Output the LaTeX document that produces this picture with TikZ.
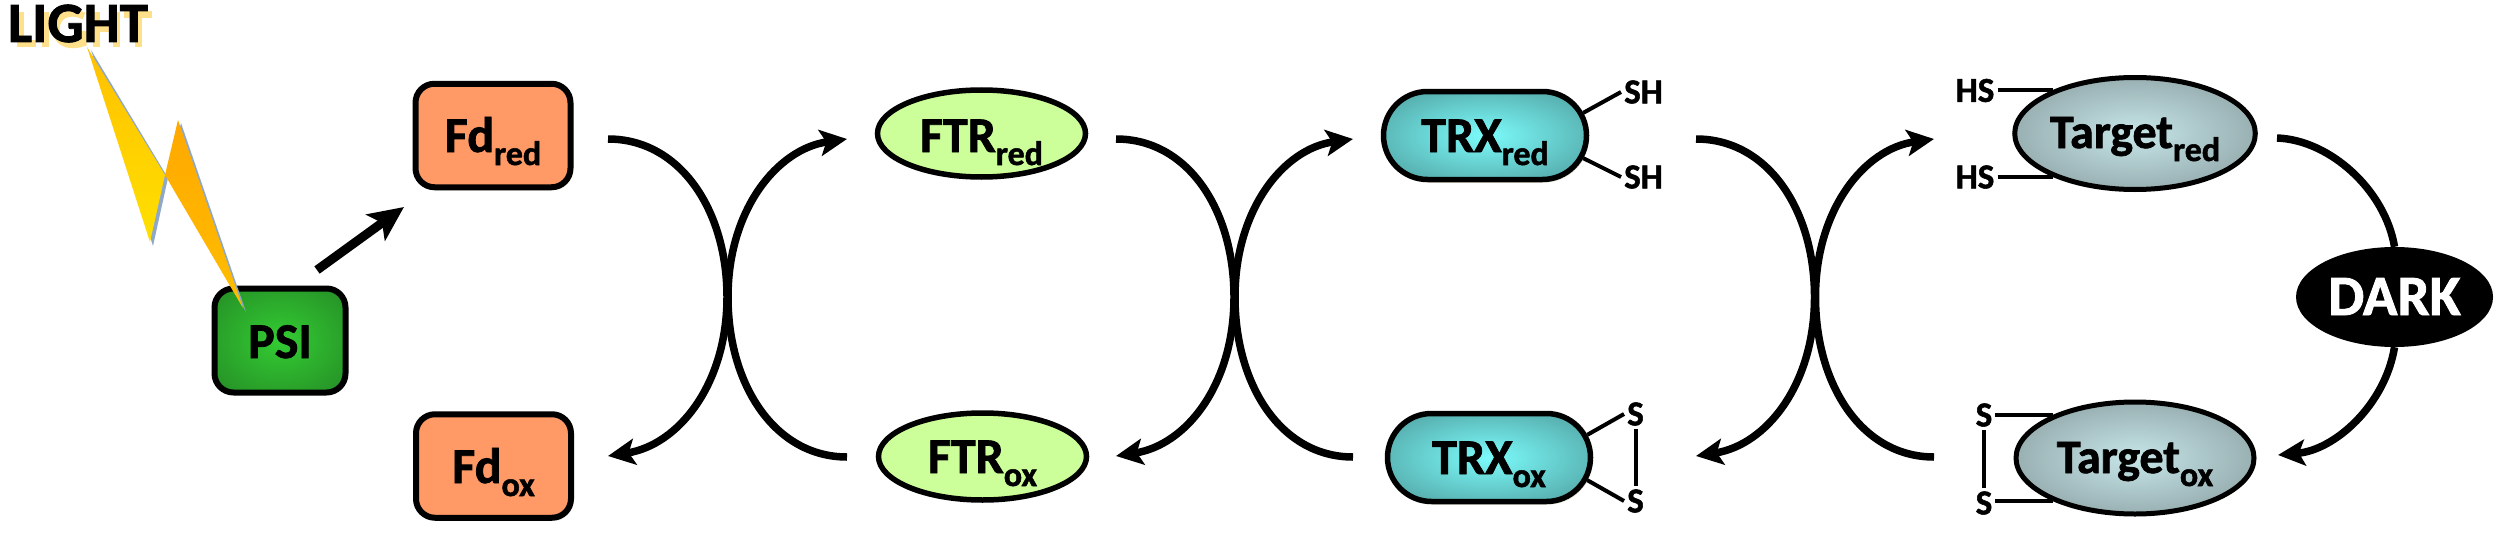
\documentclass[tikz,border=0pt]{standalone}
\usepackage{fontspec}
\setmainfont{Carlito}[BoldFeatures={FakeBold=1.5}]
\usetikzlibrary{arrows.meta,shapes.geometric,shapes.misc,shadows,calc}
\definecolor{fdfill}{HTML}{FF9966}
\definecolor{ftrfill}{HTML}{CCFF99}
\definecolor{trxin}{HTML}{7CFBFB}
\definecolor{trxout}{HTML}{56ACAC}
\definecolor{tgtin}{HTML}{C6E6E8}
\definecolor{tgtout}{HTML}{8DA1A4}
\definecolor{psiin}{HTML}{33CC33}
\definecolor{psiout}{HTML}{258C25}
\definecolor{softshadow}{HTML}{EAEADA}
\definecolor{lightshadow}{HTML}{FFE08A}
\definecolor{boltshadow}{HTML}{8FA8C8}
\definecolor{amberhi}{HTML}{FFA800}
\definecolor{amberlo}{HTML}{FFBE00}
\definecolor{goldhi}{HTML}{FFC000}
\definecolor{goldlo}{HTML}{FFE000}
\pgfdeclareradialshading{trxshade}{\pgfpointorigin}{color(0bp)=(trxin); color(30bp)=(trxout); color(50bp)=(trxout)}
\pgfdeclareradialshading{tgtshade}{\pgfpointorigin}{color(0bp)=(tgtin); color(32bp)=(tgtout); color(50bp)=(tgtout)}
\pgfdeclareradialshading{psishade}{\pgfpointorigin}{color(0bp)=(psiin); color(36bp)=(psiout); color(50bp)=(psiout)}
% main text + subscript, with the baseline #2 below the node centre
\newcommand{\boxlab}[4][50]{\raisebox{-#2pt}[0pt][0pt]{\fontsize{#1}{#1}\selectfont\bfseries #3\raisebox{-13pt}{\fontsize{34}{34}\selectfont #4}}}
\tikzset{
  x=1pt,y=-1pt,
  softdrop/.style={drop shadow={shadow xshift=2pt,shadow yshift=-3pt,fill=softshadow,opacity=1}},
  fdbox/.style={draw=black,line width=6pt,fill=fdfill,rounded corners=19pt,minimum width=155pt,minimum height=103.5pt,inner sep=0pt,softdrop},
  psibox/.style={draw=black,line width=6pt,shading=psishade,rounded corners=19pt,minimum width=131pt,minimum height=104pt,inner sep=0pt},
  ftrnode/.style={ellipse,draw=black,line width=5.5pt,fill=ftrfill,minimum width=208pt,minimum height=87pt,inner sep=0pt},
  trxnode/.style={rounded rectangle,draw=black,line width=5.5pt,shading=trxshade,minimum width=203pt,minimum height=88pt,inner sep=0pt,softdrop},
  tgtnode/.style={ellipse,draw=black,line width=5pt,shading=tgtshade,minimum width=238pt,minimum height=112pt,inner sep=0pt},
  darknode/.style={ellipse,fill=black,text=white,minimum width=197pt,minimum height=100pt,inner sep=0pt},
  thiol/.style={font=\fontsize{35}{35}\selectfont\bfseries,inner sep=3pt},
  bond/.style={line width=4pt},
  redox/.style={line width=7.5pt},
  redoxtip/.style={-{Stealth[length=27pt,width=26pt,inset=6pt]}},
  shadowstroke/.style={draw=lightshadow,line width=7pt,line cap=butt}
}
\newcommand{\crossing}[4]{% name, left x, centre x, right x
  \coordinate (#1la) at (#2,139);
  \coordinate (#1lb) at (#2,456);
  \coordinate (#1ra) at (#4,457);
  \coordinate (#1rb) at (#4,139);
  \coordinate (#1lm) at (#3-0.5,297);
  \coordinate (#1rm) at (#3+0.5,297);
  \draw[redox,redoxtip] (#1la) .. controls (#2+72,139) and (#3-0.5,210) .. (#1lm)
     .. controls (#3-0.5,385) and (#2+70,445) .. (#1lb);
  \draw[redox,redoxtip] (#1ra) .. controls (#4-72,457) and (#3+0.5,385) .. (#1rm)
     .. controls (#3+0.5,210) and (#4-70,149) .. (#1rb);
}
\begin{document}
\begin{tikzpicture}
\path[use as bounding box,fill=white] (0,0) rectangle (2500,535);

% soft shadow of the LIGHT lettering
\begin{scope}[shift={(6,6)}]
  \draw[shadowstroke] (14,6) -- (14,38) -- (30,38);
  \draw[shadowstroke] (39,6) -- (39,41);
  \draw[shadowstroke] (78,10) .. controls (60,2) and (50,12) .. (50,23) .. controls (50,36) and (62,42) .. (77,37) -- (77,25);
  \draw[shadowstroke] (90,6) -- (90,41) (110,6) -- (110,41) (90,23) -- (110,23);
  \draw[shadowstroke] (118,9) -- (146,9) (132,9) -- (132,41);
\end{scope}
\node (light) at (78,23.5) {\fontsize{57}{57}\selectfont\bfseries LIGHT};

% nodes
\node[fdbox] (Fdred) at (493,135.5) {\boxlab{16.5}{Fd}{red}};
\node[fdbox] (Fdox) at (493.5,466) {\boxlab{17}{Fd}{ox}};
\node[psibox] (PSI) at (280,340.5) {\boxlab{17.5}{PSI}{}};
\node[ftrnode] (FTRred) at (981.5,133.5) {\boxlab{18.5}{FTR}{red}};
\node[ftrnode] (FTRox) at (982.5,456.5) {\boxlab{16.5}{FTR}{ox}};
\node[trxnode] (TRXred) at (1485,135.5) {\boxlab{16.5}{TRX}{red}};
\node[trxnode] (TRXox) at (1489,457.5) {\boxlab{16.5}{TRX}{ox}};
\node[darknode] (DARK) at (2394.5,297) {\boxlab[57]{18}{DARK}{}};
\node[tgtnode] (Tred) at (2135,133.5) {\boxlab[48]{14.5}{Target}{red}};
\node[tgtnode] (Tox) at (2135,458) {\boxlab[48]{15}{Target}{ox}};

% thiol labels and bonds
\node[thiol] (shA) at (1643.5,92) {SH};
\node[thiol] (shB) at (1643.5,177) {SH};
\draw[bond] (TRXred.13) -- (shA.west);
\draw[bond] (TRXred.-13) -- (shB.west);
\node[thiol] (sA) at (1635.5,414) {S};
\node[thiol] (sB) at (1635.5,501) {S};
\draw[bond] (TRXox.13) -- (sA.west);
\draw[bond] (TRXox.-13) -- (sB.west);
\draw[bond] (sA.south) -- (sB.north);

\node[thiol] (hsA) at (1975,90.5) {HS};
\node[thiol] (hsB) at (1975,177) {HS};
\node[thiol] (tsA) at (1984,415) {S};
\node[thiol] (tsB) at (1984,503) {S};
\draw[bond] (Tred.152 -| hsA.east) -- (Tred.152);
\draw[bond] (Tred.208 -| hsB.east) -- (Tred.208);
\draw[bond] (Tox.152 -| tsA.east) -- (Tox.152);
\draw[bond] (Tox.208 -| tsB.east) -- (Tox.208);
\draw[bond] (tsA.south) -- (tsB.north);

% redox crossings
\crossing{a}{608}{727.5}{847}
\crossing{b}{1116}{1234.5}{1353}
\crossing{c}{1696}{1815}{1934}

% dark inactivation
\coordinate (Tredout) at (2277,138);
\coordinate (Toxin) at (2278,455);
\draw[redox] (Tredout) .. controls (2330,140) and (2385,190) .. (DARK.north);
\draw[redox,redoxtip] (DARK.south) .. controls (2385,405) and (2335,450) .. (Toxin);

% PSI to ferredoxin
\coordinate (psiout) at (317,270);
\coordinate (fdin) at (404,207);
\draw[line width=9pt,-{Stealth[length=35pt,width=32pt,inset=8pt]}] (psiout) -- (fdin);

% lightning bolt
\fill[boltshadow] (91,50) -- (168,178) -- (153,246) -- cycle;
\fill[boltshadow] (181,123) -- (246,312) -- (168,178) -- cycle;
\path[top color=amberhi,bottom color=amberlo] (178,120) -- (243,308) -- (165,175) -- cycle;
\path[top color=goldhi,bottom color=goldlo] (87,47) -- (165,175) -- (150,242) -- cycle;
\end{tikzpicture}
\end{document}
